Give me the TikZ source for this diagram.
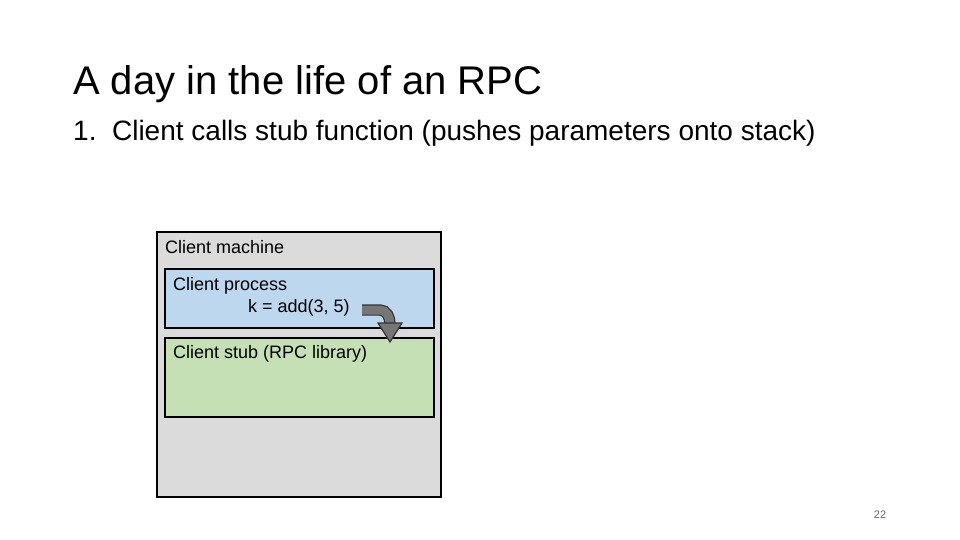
\documentclass[tikz,border=0pt]{standalone}
\usepackage{fontspec}
\setmainfont{Liberation Sans}
\begin{document}
\begin{tikzpicture}[x=1pt,y=-1pt,
  box/.style={draw=black,line width=2pt},
  lbl/.style={anchor=base west,inner sep=0pt,font=\fontsize{18}{20}\selectfont}]
\useasboundingbox (0,0) rectangle (960,540);
\node[anchor=base west,inner sep=0pt,font=\fontsize{40}{44}\selectfont] (title) at (73,95) {A day in the life of an RPC};
\node[anchor=base west,inner sep=0pt,font=\fontsize{28}{30}\selectfont] (step) at (73,141) {1.\ \ Client calls stub function (pushes parameters onto stack)};
\draw[box,fill=black!14] (157,232) rectangle (441,497);
\node[lbl] (cm) at (165,253) {Client machine};
\draw[box,fill={rgb,255:red,189;green,215;blue,238}] (165,269) rectangle (434,328);
\node[lbl] (cp) at (173,290) {Client process};
\node[lbl] (k) at (248,312) {k = add(3, 5)};
\draw[box,fill={rgb,255:red,197;green,224;blue,180}] (165,338) rectangle (434,417);
\node[lbl] (cs) at (173,358) {Client stub (RPC library)};
\draw[draw=black!80,line width=1.2pt,double={rgb,255:red,118;green,118;blue,118},double distance=9pt]
  (362,310) -- (380,310) to[out=0,in=90] (390,324);
\draw[draw=black!80,line width=1.2pt,fill={rgb,255:red,118;green,118;blue,118}]
  (378,323) -- (402,323) -- (390,342) -- cycle;
\node[anchor=base,inner sep=0pt,font=\fontsize{11}{12}\selectfont,text=black!60] (pg) at (880,518) {22};
\end{tikzpicture}
\end{document}
